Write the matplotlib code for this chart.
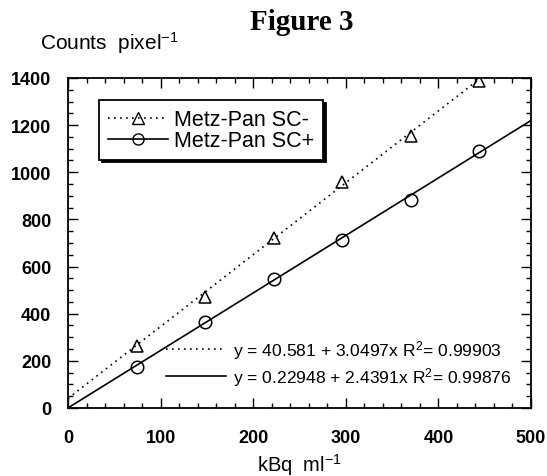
import numpy as np
import matplotlib
matplotlib.use("Agg")
import matplotlib.pyplot as plt
from matplotlib.lines import Line2D
from matplotlib.ticker import MultipleLocator

# activity concentration (kBq/ml) and measured counts per pixel
activity = [74, 148, 222, 296, 370, 444]
counts_sc_minus = [263, 470, 722, 957, 1155, 1389]
counts_sc_plus = [174, 365, 548, 714, 884, 1092]

# linear fits: intercept, slope, R^2
fit_sc_minus = (40.581, 3.0497, 0.99903)
fit_sc_plus = (0.22948, 2.4391, 0.99876)

series_labels = ["Metz-Pan SC-", "Metz-Pan SC+"]
x_ticks = [0, 100, 200, 300, 400, 500]
y_ticks = [0, 200, 400, 600, 800, 1000, 1200, 1400]

plt.rcParams['font.family'] = ['Liberation Sans', 'DejaVu Sans']
plt.rcParams['mathtext.fontset'] = 'custom'
plt.rcParams['mathtext.rm'] = 'Liberation Sans'
plt.rcParams['mathtext.it'] = 'Liberation Sans:italic'
plt.rcParams['mathtext.bf'] = 'Liberation Sans:bold'

fig = plt.figure(figsize=(5.47, 4.77), dpi=100)
ax = fig.add_axes([0.1243, 0.1426, 0.8464, 0.6918])

dotted = (0, (1, 2.6))
x_fit = np.array([x_ticks[0], x_ticks[-1]])
ax.plot(x_fit, fit_sc_minus[0] + fit_sc_minus[1] * x_fit, color='black', lw=1.2, ls=dotted)
ax.plot(x_fit, fit_sc_plus[0] + fit_sc_plus[1] * x_fit, color='black', lw=1.2)
ax.plot(activity, counts_sc_minus, ls='none', marker='^', ms=9, mfc='none', mec='black', mew=1.1)
ax.plot(activity, counts_sc_plus, ls='none', marker='o', ms=9, mfc='none', mec='black', mew=1.1)

ax.set_xlim(x_ticks[0], x_ticks[-1])
ax.set_ylim(y_ticks[0], y_ticks[-1])
ax.set_xticks(x_ticks)
ax.set_yticks(y_ticks)
ax.xaxis.set_minor_locator(MultipleLocator(20))
ax.yaxis.set_minor_locator(MultipleLocator(50))
ax.tick_params(which='both', direction='in', top=True, right=True, width=1)
ax.tick_params(which='major', length=7)
ax.tick_params(which='minor', length=3.5)
ax.tick_params(axis='x', which='major', labelsize=13, pad=15)
ax.tick_params(axis='y', which='major', labelsize=13, pad=12)
plt.setp(ax.get_xticklabels(), fontweight='bold')
plt.setp(ax.get_yticklabels(), fontweight='bold')
for sp in ax.spines.values():
    sp.set_linewidth(1.3)

# series legend with black drop shadow
handles = [
    Line2D([], [], color='black', lw=1.2, ls=dotted, marker='^', ms=8, mfc='none', mec='black'),
    Line2D([], [], color='black', lw=1.2, marker='o', ms=8, mfc='none', mec='black'),
]
leg1 = ax.legend(handles, series_labels, loc='upper left', bbox_to_anchor=(0.067, 0.932),
                 borderaxespad=0, fancybox=False, edgecolor='black', framealpha=1,
                 shadow={'color': 'black', 'alpha': 1}, fontsize=15.5, handlelength=2.8,
                 handletextpad=0.3, labelspacing=0.0, borderpad=0.4)
leg1.get_frame().set_linewidth(1.3)
ax.add_artist(leg1)

# fit equations
fit_handles = [Line2D([], [], color='black', lw=1.2, ls=dotted),
               Line2D([], [], color='black', lw=1.2)]
fit_labels = [f"y = {a} + {b}x R$^2$= {r2}" for a, b, r2 in (fit_sc_minus, fit_sc_plus)]
ax.legend(fit_handles, fit_labels, loc='lower right', bbox_to_anchor=(0.958, 0.062),
          borderaxespad=0, borderpad=0, frameon=False, fontsize=12.6, handlelength=3.4,
          handletextpad=0.4, labelspacing=0.2)

ax.set_xlabel("kBq  ml$^{-1}$", fontsize=14.5, va='center')
ax.xaxis.set_label_coords(0.5, -0.17)
fig.text(0.073, 0.91, "Counts  pixel$^{-1}$", fontsize=15, ha='left', va='center')
fig.text(0.552, 0.952, "Figure 3", fontsize=21, fontweight='bold',
         family=['Liberation Serif', 'DejaVu Serif'], ha='center', va='center')

fig.savefig("out.png", dpi=100)
